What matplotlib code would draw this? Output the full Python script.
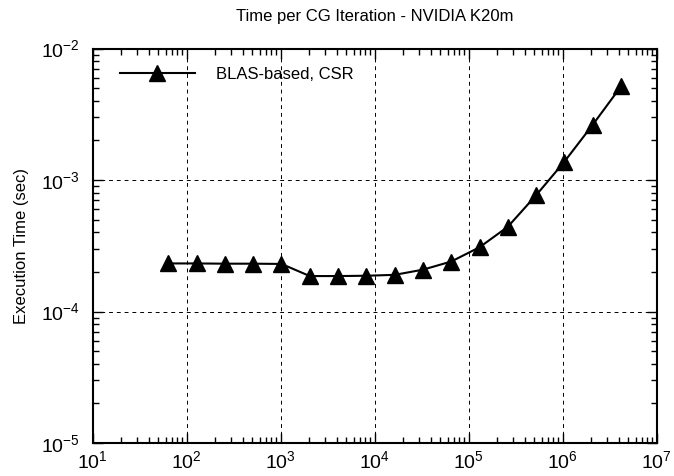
import matplotlib
matplotlib.use("Agg")
import matplotlib.pyplot as plt
from matplotlib.ticker import FixedLocator, NullFormatter, LogFormatterSciNotation

plt.rcParams['font.family'] = ['Liberation Sans', 'DejaVu Sans']
plt.rcParams['mathtext.fontset'] = 'custom'
plt.rcParams['mathtext.rm'] = 'Liberation Sans'
plt.rcParams['mathtext.it'] = 'Liberation Sans'
plt.rcParams['mathtext.bf'] = 'Liberation Sans'

# Data
sizes = [64, 128, 256, 512, 1024, 2048, 4096, 8192, 16384, 32768, 65536,
         131072, 262144, 524288, 1048576, 2097152, 4194304]
times = [2.32e-4, 2.32e-4, 2.31e-4, 2.31e-4, 2.30e-4, 1.86e-4, 1.86e-4,
         1.87e-4, 1.90e-4, 2.08e-4, 2.40e-4, 3.08e-4, 4.41e-4, 7.66e-4,
         1.38e-3, 2.63e-3, 5.15e-3]
x_major = [1e1, 1e2, 1e3, 1e4, 1e5, 1e6, 1e7]
y_major = [1e-5, 1e-4, 1e-3, 1e-2]
series_label = "BLAS-based, CSR"
title = "Time per CG Iteration - NVIDIA K20m"
ylabel = "Execution Time (sec)"

fig = plt.figure(figsize=(6.74, 4.76), dpi=100)
ax = fig.add_axes([92.5/674, 1-443/476, (656.5-92.5)/674, (443-48.5)/476])

ax.plot(sizes, times, color='k', linewidth=1.5, marker='^', markersize=11,
        markerfacecolor='k', markeredgecolor='k', label=series_label)

ax.set_xscale('log')
ax.set_yscale('log')
ax.set_xlim(x_major[0], x_major[-1])
ax.set_ylim(y_major[0], y_major[-1])

ax.xaxis.set_major_locator(FixedLocator(x_major))
ax.yaxis.set_major_locator(FixedLocator(y_major))
ax.xaxis.set_major_formatter(LogFormatterSciNotation())
ax.yaxis.set_major_formatter(LogFormatterSciNotation())
x_minor = [m * d for d in x_major[:-1] for m in range(2, 10)]
y_minor = [m * d for d in y_major[:-1] for m in range(2, 10)]
ax.xaxis.set_minor_locator(FixedLocator(x_minor))
ax.yaxis.set_minor_locator(FixedLocator(y_minor))
ax.xaxis.set_minor_formatter(NullFormatter())
ax.yaxis.set_minor_formatter(NullFormatter())

ax.tick_params(which='both', direction='in', top=True, right=True, width=1.0)
ax.tick_params(which='major', length=7, labelsize=14)
ax.tick_params(which='minor', length=4)
ax.tick_params(axis='x', which='major', pad=5)
ax.tick_params(axis='y', which='major', pad=9)

for s in ax.spines.values():
    s.set_linewidth(1.5)

ax.grid(True, which='major', color='k', linestyle=(0, (4, 4)), linewidth=0.7)

ax.set_title(title, fontsize=12, pad=20)
ax.set_ylabel(ylabel, fontsize=12, labelpad=9)

leg = ax.legend(loc='upper left', bbox_to_anchor=(0.048, 0.953), frameon=False,
                fontsize=12, handlelength=4.5, handletextpad=1.3,
                borderaxespad=0, borderpad=0)

fig.savefig("out.png", dpi=100)
